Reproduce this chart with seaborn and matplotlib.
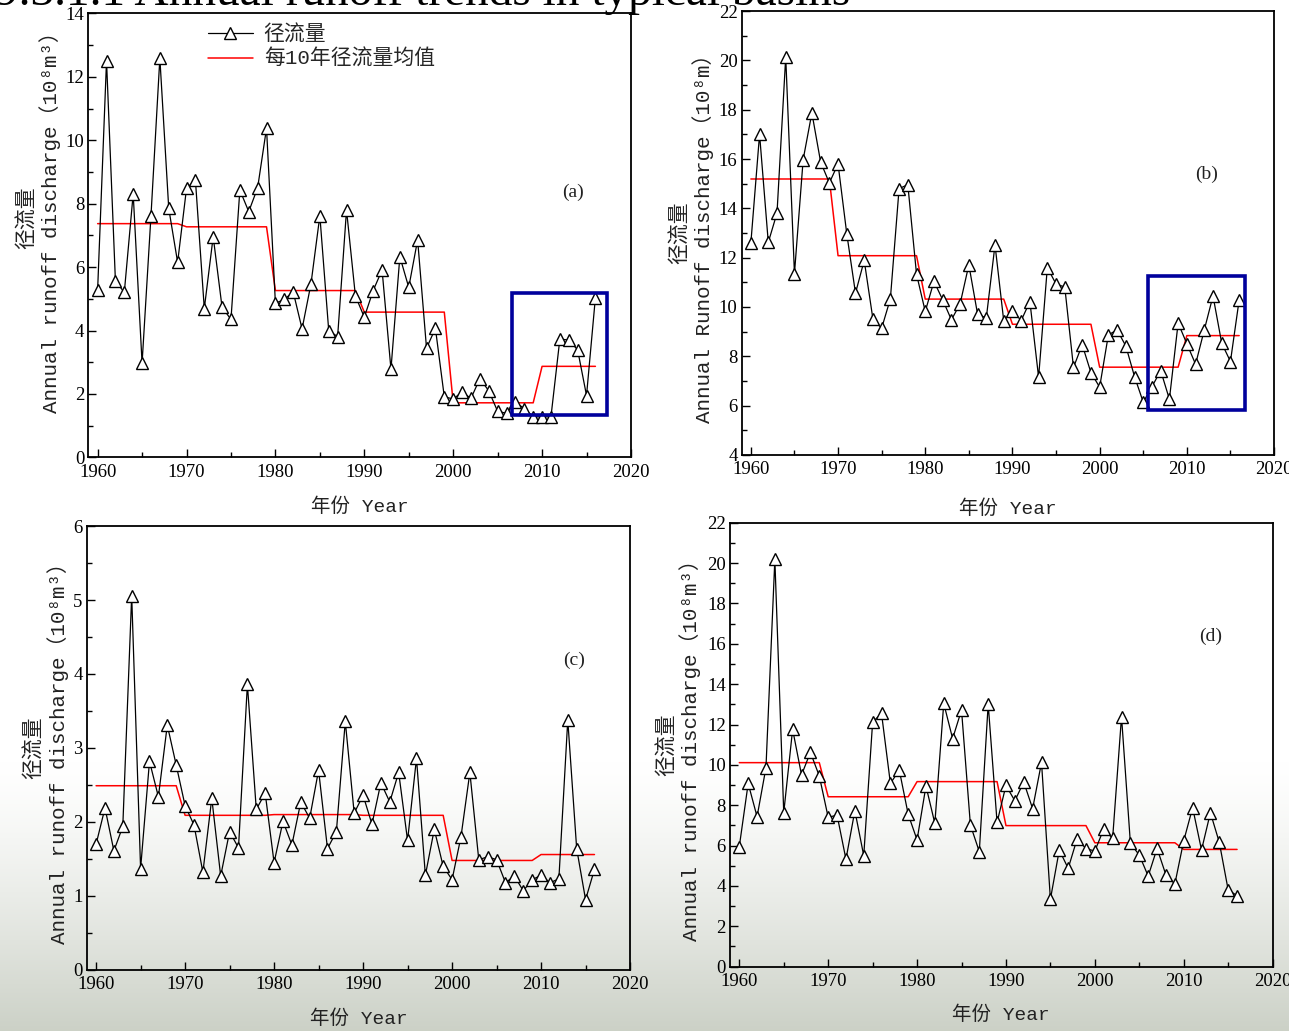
import numpy as np
import pandas as pd
import matplotlib
matplotlib.use("Agg")
import matplotlib.pyplot as plt
import seaborn as sns
from matplotlib.patches import Rectangle
from matplotlib.ticker import MultipleLocator
from matplotlib.font_manager import FontProperties

# ---------------- data ----------------
years = list(range(1960, 2017))

runoff_a = [5.28, 12.51, 5.57, 5.20, 8.31, 2.97, 7.61, 12.59, 7.85, 6.15,
            8.48, 8.75, 4.69, 6.96, 4.73, 4.35, 8.43, 7.75, 8.50, 10.38,
            4.86, 4.98, 5.22, 4.05, 5.47, 7.62, 3.99, 3.81, 7.80, 5.09,
            4.42, 5.26, 5.91, 2.78, 6.33, 5.36, 6.86, 3.44, 4.07, 1.91,
            1.84, 2.06, 1.86, 2.48, 2.10, 1.45, 1.39, 1.74, 1.54, 1.28,
            1.28, 1.28, 3.73, 3.70, 3.39, 1.95, 5.04]
runoff_b = [12.59, 17.00, 12.62, 13.81, 20.14, 11.35, 15.98, 17.87, 15.88, 15.03,
            15.80, 12.97, 10.56, 11.89, 9.51, 9.14, 10.33, 14.80, 14.96, 11.33,
            9.82, 11.04, 10.29, 9.48, 10.13, 11.71, 9.71, 9.55, 12.52, 9.44,
            9.85, 9.45, 10.22, 7.15, 11.60, 10.93, 10.81, 7.55, 8.47, 7.34,
            6.75, 8.87, 9.07, 8.42, 7.18, 6.14, 6.77, 7.42, 6.26, 9.35,
            8.51, 7.68, 9.07, 10.45, 8.53, 7.79, 10.29]
runoff_c = [1.70, 2.19, 1.61, 1.94, 5.06, 1.37, 2.82, 2.34, 3.31, 2.77,
            2.22, 1.96, 1.32, 2.32, 1.27, 1.87, 1.65, 3.86, 2.17, 2.39,
            1.45, 2.01, 1.69, 2.27, 2.05, 2.70, 1.64, 1.87, 3.36, 2.12,
            2.36, 1.97, 2.53, 2.27, 2.67, 1.75, 2.86, 1.28, 1.90, 1.40,
            1.22, 1.80, 2.67, 1.49, 1.53, 1.49, 1.18, 1.27, 1.07, 1.22,
            1.28, 1.18, 1.23, 3.38, 1.64, 0.95, 1.36]
runoff_d = [5.95, 9.08, 7.43, 9.86, 20.18, 7.63, 11.76, 9.50, 10.62, 9.45,
            7.40, 7.51, 5.32, 7.73, 5.50, 12.12, 12.55, 9.08, 9.74, 7.55,
            6.28, 8.95, 7.10, 13.05, 11.30, 12.72, 7.02, 5.70, 13.01, 7.15,
            8.98, 8.22, 9.15, 7.83, 10.12, 3.34, 5.78, 4.87, 6.33, 5.85,
            5.73, 6.82, 6.36, 12.39, 6.11, 5.53, 4.49, 5.86, 4.54, 4.10,
            6.24, 7.88, 5.78, 7.63, 6.16, 3.80, 3.52]

decade_mean_a = [7.37, 7.27, 5.26, 4.58, 1.72, 2.87]
decade_mean_b = [15.19, 12.08, 10.32, 9.30, 7.56, 8.84]
decade_mean_c = [2.49, 2.09, 2.10, 2.09, 1.48, 1.56]
decade_mean_d = [10.11, 8.42, 9.17, 6.99, 6.14, 5.81]

# highlight boxes (x0, y0, x1, y1) in data units
box_a = [2006.6, 1.34, 2017.3, 5.17]
box_b = [2005.6, 5.83, 2016.7, 11.24]

title_text = "9.3.1.1 Annual runoff trends in typical basins"
legend_labels = ["径流量", "每10年径流量均值"]
xlabel_text = "年份 Year"
ylabel_std = "径流量\nAnnual runoff discharge（10⁸m³）"
ylabel_b = "径流量\nAnnual Runoff discharge（10⁸m）"
panel_tags = ["(a)", "(b)", "(c)", "(d)"]

# ---------------- style ----------------
sns.set_theme(style="ticks")
plt.rcParams["font.family"] = ["Liberation Serif", "Noto Sans CJK SC", "DejaVu Sans"]
plt.rcParams["axes.unicode_minus"] = False

W, H = 1289, 1031
fig = plt.figure(figsize=(W / 100, H / 100), dpi=100)

# background (slide gradient)
ax_bg = fig.add_axes([0, 0, 1, 1], zorder=-10)
n = 400
t = np.linspace(0, 1, n)  # 0 top -> 1 bottom
ramp = np.clip((t - 0.74) / 0.26, 0, 1) ** 1.3
top_c = np.array([1.0, 1.0, 1.0])
bot_c = np.array([0.80, 0.82, 0.78])
grad = top_c[None, :] * (1 - ramp[:, None]) + bot_c[None, :] * ramp[:, None]
grad = np.repeat(grad[:, None, :], 2, axis=1)
ax_bg.imshow(grad, aspect="auto", extent=[0, 1, 0, 1])
ax_bg.axis("off")

fam = ["Liberation Mono", "Noto Sans CJK SC", "DejaVu Sans"]
label_font = FontProperties(family=fam, size=15)
xlabel_font = FontProperties(family=fam, size=14)
legend_font = FontProperties(family=fam, size=15)
tick_font = FontProperties(family="Liberation Serif", size=13.5)
tag_font = FontProperties(family="Liberation Serif", size=14)

panels = [
    dict(pos=[0.0685, 0.5564, 0.4210, 0.4306], y=runoff_a, m=decade_mean_a, ylim=(0, 14),
         major=2, minor=1, ylabel=ylabel_std, ylab_x=-0.050, ylab_y=0.54, tag=(0.893, 0.598),
         xlab_y=-0.112, box=box_a),
    dict(pos=[0.5754, 0.5587, 0.4130, 0.4306], y=runoff_b, m=decade_mean_b, ylim=(4, 22),
         major=2, minor=1, ylabel=ylabel_b, ylab_x=-0.052, ylab_y=0.5, tag=(0.874, 0.633),
         xlab_y=-0.1216, box=box_b),
    dict(pos=[0.0673, 0.0592, 0.4215, 0.4306], y=runoff_c, m=decade_mean_c, ylim=(0, 6),
         major=1, minor=0.5, ylabel=ylabel_std, ylab_x=-0.033, ylab_y=0.5, tag=(0.897, 0.698),
         xlab_y=-0.110, box=None),
    dict(pos=[0.5663, 0.0624, 0.4210, 0.4306], y=runoff_d, m=decade_mean_d, ylim=(0, 22),
         major=2, minor=1, ylabel=ylabel_std, ylab_x=-0.053, ylab_y=0.5, tag=(0.886, 0.743),
         xlab_y=-0.109, box=None),
]

for i, p in enumerate(panels):
    ax = fig.add_axes(p["pos"])
    ax.set_facecolor("none")
    mean_line = [p["m"][(yr - 1960) // 10] for yr in years]
    df = pd.DataFrame({"year": years, "runoff": p["y"], "mean": mean_line})

    sns.lineplot(data=df, x="year", y="mean", ax=ax, color="#ff0000", linewidth=1.1,
                 errorbar=None, legend=False, zorder=2)
    sns.lineplot(data=df, x="year", y="runoff", ax=ax, color="black", linewidth=0.9,
                 marker="^", markersize=8.5, markerfacecolor="white",
                 markeredgecolor="black", markeredgewidth=1.0,
                 errorbar=None, legend=False, zorder=3)

    ax.set_xlim(1958.95, 2020)
    ax.set_ylim(*p["ylim"])
    ax.xaxis.set_major_locator(MultipleLocator(10))
    ax.xaxis.set_minor_locator(MultipleLocator(5))
    ax.yaxis.set_major_locator(MultipleLocator(p["major"]))
    ax.yaxis.set_minor_locator(MultipleLocator(p["minor"]))
    ax.tick_params(which="major", direction="in", length=6, width=1.0, color="black",
                   top=False, right=False, pad=4.5)
    ax.tick_params(which="minor", direction="in", length=3.5, width=1.0, color="black",
                   top=False, right=False)
    ax.tick_params(axis="y", which="major", pad=3)
    for lab in ax.get_xticklabels() + ax.get_yticklabels():
        lab.set_fontproperties(tick_font)
        lab.set_color("black")
    for sp in ax.spines.values():
        sp.set_visible(True)
        sp.set_color("black")
        sp.set_linewidth(1.3)

    ax.set_xlabel(xlabel_text, fontproperties=xlabel_font, color="#222222")
    ax.xaxis.label.set_va("center")
    ax.xaxis.set_label_coords(0.5, p["xlab_y"])
    ax.set_ylabel(p["ylabel"], fontproperties=label_font, color="#222222",
                  linespacing=1.15, multialignment="center")
    ax.yaxis.set_label_coords(p["ylab_x"], p["ylab_y"])

    ax.text(p["tag"][0], p["tag"][1], panel_tags[i], transform=ax.transAxes,
            ha="center", va="center", fontproperties=tag_font, color="#222222")

    if p["box"] is not None:
        x0, y0, x1, y1 = p["box"]
        ax.add_patch(Rectangle((x0, y0), x1 - x0, y1 - y0, fill=False,
                               edgecolor="#00009c", linewidth=2.6, zorder=4))

    if i == 0:
        handles = [ax.lines[1], ax.lines[0]]
        ax.legend(handles=handles, labels=legend_labels, loc="upper left",
                  bbox_to_anchor=(0.212, 0.985), frameon=False, prop=legend_font,
                  handlelength=2.2, handletextpad=0.5, labelspacing=0.22,
                  borderpad=0.2, borderaxespad=0, numpoints=1)

fig.text(-0.004, 1 - 5 / H, title_text, fontproperties=FontProperties(family="Liberation Serif", size=34),
         ha="left", va="baseline", color="black")

fig.savefig("out.png", dpi=100)
